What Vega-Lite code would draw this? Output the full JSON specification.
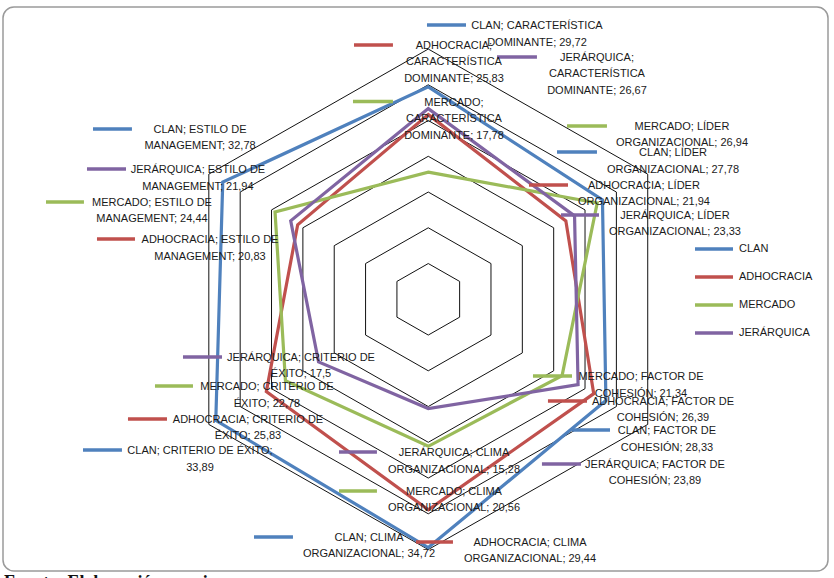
{
  "$schema": "https://vega.github.io/schema/vega-lite/v6.json",
  "autosize": {"type": "none"},
  "width": 825,
  "height": 564,
  "padding": {"left": 3, "top": 7, "right": 6, "bottom": 7},
  "background": "white",
  "config": {
    "view": {"stroke": "#9a9a9a", "strokeWidth": 1.5, "cornerRadius": 11, "fill": "white"},
    "text": {"font": "Liberation Sans"}
  },
  "datasets": {
    "valores": [
      {"serie": "CLAN", "eje": "CARACTERÍSTICA DOMINANTE", "idx": 0, "valor": 29.72},
      {"serie": "CLAN", "eje": "LÍDER ORGANIZACIONAL", "idx": 1, "valor": 27.78},
      {"serie": "CLAN", "eje": "FACTOR DE COHESIÓN", "idx": 2, "valor": 28.33},
      {"serie": "CLAN", "eje": "CLIMA ORGANIZACIONAL", "idx": 3, "valor": 34.72},
      {"serie": "CLAN", "eje": "CRITERIO DE ÉXITO", "idx": 4, "valor": 33.89},
      {"serie": "CLAN", "eje": "ESTILO DE MANAGEMENT", "idx": 5, "valor": 32.78},
      {"serie": "ADHOCRACIA", "eje": "CARACTERÍSTICA DOMINANTE", "idx": 0, "valor": 25.83},
      {"serie": "ADHOCRACIA", "eje": "LÍDER ORGANIZACIONAL", "idx": 1, "valor": 21.94},
      {"serie": "ADHOCRACIA", "eje": "FACTOR DE COHESIÓN", "idx": 2, "valor": 26.39},
      {"serie": "ADHOCRACIA", "eje": "CLIMA ORGANIZACIONAL", "idx": 3, "valor": 29.44},
      {"serie": "ADHOCRACIA", "eje": "CRITERIO DE ÉXITO", "idx": 4, "valor": 25.83},
      {"serie": "ADHOCRACIA", "eje": "ESTILO DE MANAGEMENT", "idx": 5, "valor": 20.83},
      {"serie": "MERCADO", "eje": "CARACTERÍSTICA DOMINANTE", "idx": 0, "valor": 17.78},
      {"serie": "MERCADO", "eje": "LÍDER ORGANIZACIONAL", "idx": 1, "valor": 26.94},
      {"serie": "MERCADO", "eje": "FACTOR DE COHESIÓN", "idx": 2, "valor": 21.34},
      {"serie": "MERCADO", "eje": "CLIMA ORGANIZACIONAL", "idx": 3, "valor": 20.56},
      {"serie": "MERCADO", "eje": "CRITERIO DE ÉXITO", "idx": 4, "valor": 22.78},
      {"serie": "MERCADO", "eje": "ESTILO DE MANAGEMENT", "idx": 5, "valor": 24.44},
      {"serie": "JERÁRQUICA", "eje": "CARACTERÍSTICA DOMINANTE", "idx": 0, "valor": 26.67},
      {"serie": "JERÁRQUICA", "eje": "LÍDER ORGANIZACIONAL", "idx": 1, "valor": 23.33},
      {"serie": "JERÁRQUICA", "eje": "FACTOR DE COHESIÓN", "idx": 2, "valor": 23.89},
      {"serie": "JERÁRQUICA", "eje": "CLIMA ORGANIZACIONAL", "idx": 3, "valor": 15.28},
      {"serie": "JERÁRQUICA", "eje": "CRITERIO DE ÉXITO", "idx": 4, "valor": 17.5},
      {"serie": "JERÁRQUICA", "eje": "ESTILO DE MANAGEMENT", "idx": 5, "valor": 21.94}
    ],
    "rejilla": [
      {"idx": 0, "anillo": [5, 10, 15, 20, 25, 30, 35]},
      {"idx": 1, "anillo": [5, 10, 15, 20, 25, 30, 35]},
      {"idx": 2, "anillo": [5, 10, 15, 20, 25, 30, 35]},
      {"idx": 3, "anillo": [5, 10, 15, 20, 25, 30, 35]},
      {"idx": 4, "anillo": [5, 10, 15, 20, 25, 30, 35]},
      {"idx": 5, "anillo": [5, 10, 15, 20, 25, 30, 35]}
    ],
    "etiquetas": [
      {"serie": "CLAN", "texto": "CLAN; CARACTERÍSTICA\nDOMINANTE; 29,72", "kx1": -0.18, "kx2": 5.21, "tx": 15.01, "ty": 38.36},
      {"serie": "ADHOCRACIA", "texto": "ADHOCRACIA;\nCARACTERÍSTICA\nDOMINANTE; 25,83", "kx1": -10.26, "kx2": -4.88, "tx": 3.55, "ty": 35.57},
      {"serie": "JERÁRQUICA", "texto": "JERÁRQUICA;\nCARACTERÍSTICA\nDOMINANTE; 26,67", "kx1": 9.49, "kx2": 15.01, "tx": 23.3, "ty": 33.89},
      {"serie": "MERCADO", "texto": "MERCADO;\nCARACTERÍSTICA\nDOMINANTE; 17,78", "kx1": -10.4, "kx2": -4.88, "tx": 3.55, "ty": 27.66},
      {"serie": "MERCADO", "texto": "MERCADO; LÍDER\nORGANIZACIONAL; 26,94", "kx1": 19.16, "kx2": 24.68, "tx": 35.04, "ty": 24.24},
      {"serie": "CLAN", "texto": "CLAN; LÍDER\nORGANIZACIONAL; 27,78", "kx1": 17.78, "kx2": 23.3, "tx": 33.8, "ty": 20.6},
      {"serie": "ADHOCRACIA", "texto": "ADHOCRACIA; LÍDER\nORGANIZACIONAL; 21,94", "kx1": 13.91, "kx2": 19.3, "tx": 29.79, "ty": 15.99},
      {"serie": "JERÁRQUICA", "texto": "JERÁRQUICA; LÍDER\nORGANIZACIONAL; 23,33", "kx1": 18.33, "kx2": 23.58, "tx": 34.07, "ty": 11.79},
      {"serie": "CLAN", "texto": "CLAN; ESTILO DE\nMANAGEMENT; 32,78", "kx1": -46.31, "kx2": -40.93, "tx": -31.53, "ty": 23.82},
      {"serie": "JERÁRQUICA", "texto": "JERÁRQUICA; ESTILO DE\nMANAGEMENT; 21,94", "kx1": -47.14, "kx2": -41.75, "tx": -31.81, "ty": 18.22},
      {"serie": "MERCADO", "texto": "MERCADO; ESTILO DE\nMANAGEMENT; 24,44", "kx1": -52.8, "kx2": -47.56, "tx": -38.16, "ty": 13.61},
      {"serie": "ADHOCRACIA", "texto": "ADHOCRACIA; ESTILO DE\nMANAGEMENT; 20,83", "kx1": -45.76, "kx2": -40.51, "tx": -30.15, "ty": 8.43},
      {"serie": "JERÁRQUICA", "texto": "JERÁRQUICA; CRITERIO DE\nÉXITO; 17,5", "kx1": -33.88, "kx2": -28.49, "tx": -17.58, "ty": -8.07},
      {"serie": "MERCADO", "texto": "MERCADO; CRITERIO DE\nÉXITO; 22,78", "kx1": -37.75, "kx2": -32.5, "tx": -22.28, "ty": -12.13},
      {"serie": "ADHOCRACIA", "texto": "ADHOCRACIA; CRITERIO DE\nÉXITO; 25,83", "kx1": -41.48, "kx2": -36.09, "tx": -24.9, "ty": -16.74},
      {"serie": "CLAN", "texto": "CLAN; CRITERIO DE ÉXITO;\n33,89", "kx1": -47.69, "kx2": -42.31, "tx": -31.53, "ty": -21.08},
      {"serie": "CLAN", "texto": "CLAN; CLIMA\nORGANIZACIONAL; 34,72", "kx1": -24.07, "kx2": -18.69, "tx": -8.19, "ty": -33.24},
      {"serie": "ADHOCRACIA", "texto": "ADHOCRACIA; CLIMA\nORGANIZACIONAL; 29,44", "kx1": -1.7, "kx2": 3.41, "tx": 14.05, "ty": -33.94},
      {"serie": "JERÁRQUICA", "texto": "JERÁRQUICA; CLIMA\nORGANIZACIONAL; 15,28", "kx1": -12.33, "kx2": -7.09, "tx": 3.55, "ty": -21.36},
      {"serie": "MERCADO", "texto": "MERCADO; CLIMA\nORGANIZACIONAL; 20,56", "kx1": -12.33, "kx2": -7.09, "tx": 3.55, "ty": -26.81},
      {"serie": "MERCADO", "texto": "MERCADO; FACTOR DE\nCOHESIÓN; 21,34", "kx1": 14.46, "kx2": 19.85, "tx": 29.38, "ty": -10.73},
      {"serie": "ADHOCRACIA", "texto": "ADHOCRACIA; FACTOR DE\nCOHESIÓN; 26,39", "kx1": 16.53, "kx2": 21.92, "tx": 32.42, "ty": -14.22},
      {"serie": "CLAN", "texto": "CLAN; FACTOR DE\nCOHESIÓN; 28,33", "kx1": 19.85, "kx2": 25.1, "tx": 32.97, "ty": -18.28},
      {"serie": "JERÁRQUICA", "texto": "JERÁRQUICA; FACTOR DE\nCOHESIÓN; 23,89", "kx1": 15.7, "kx2": 21.09, "tx": 31.31, "ty": -23.03}
    ],
    "fuente": [
      {"texto": "Fuente: Elaboración propia", "fx": -58.6, "fy": -38.38}
    ]
  },
  "layer": [
    {
      "data": {"name": "rejilla"},
      "transform": [
        {"flatten": ["anillo"]},
        {"calculate": "datum.idx * PI / 3", "as": "ang"},
        {"calculate": "datum.anillo * sin(datum.ang)", "as": "gx"},
        {"calculate": "datum.anillo * cos(datum.ang)", "as": "gy"}
      ],
      "mark": {"type": "line", "interpolate": "linear-closed", "stroke": "#111111", "strokeWidth": 1},
      "encoding": {
        "x": {"field": "gx", "type": "quantitative", "axis": null, "scale": {"domain": [-58.74, 55.21], "nice": false, "zero": false}},
        "y": {"field": "gy", "type": "quantitative", "axis": null, "scale": {"domain": [-38.0, 40.88], "nice": false, "zero": false}},
        "detail": {"field": "anillo", "type": "nominal"},
        "order": {"field": "idx", "type": "quantitative"}
      }
    },
    {
      "data": {"name": "valores"},
      "transform": [
        {"calculate": "datum.idx * PI / 3", "as": "ang"},
        {"calculate": "datum.valor * sin(datum.ang)", "as": "px"},
        {"calculate": "datum.valor * cos(datum.ang)", "as": "py"}
      ],
      "mark": {"type": "line", "interpolate": "linear-closed", "strokeWidth": 3.2},
      "encoding": {
        "x": {"field": "px", "type": "quantitative", "axis": null, "scale": {"domain": [-58.74, 55.21], "nice": false, "zero": false}},
        "y": {"field": "py", "type": "quantitative", "axis": null, "scale": {"domain": [-38.0, 40.88], "nice": false, "zero": false}},
        "color": {
          "field": "serie", "type": "nominal",
          "scale": {"domain": ["CLAN", "ADHOCRACIA", "MERCADO", "JERÁRQUICA"], "range": ["#4F81BD", "#C0504D", "#9BBB59", "#8064A2"]},
          "legend": {"orient": "none", "legendX": 690, "legendY": 221, "title": null, "symbolType": "stroke", "symbolSize": 1444, "symbolStrokeWidth": 3.5, "rowPadding": -11.3, "labelFont": "Liberation Sans", "labelFontSize": 11, "labelColor": "#1a1a1a", "labelOffset": 4, "padding": 0}
        },
        "order": {"field": "idx", "type": "quantitative"}
      }
    },
    {
      "data": {"name": "etiquetas"},
      "mark": {"type": "rule", "strokeWidth": 3.5},
      "encoding": {
        "x": {"field": "kx1", "type": "quantitative", "axis": null, "scale": {"domain": [-58.74, 55.21], "nice": false, "zero": false}},
        "x2": {"field": "kx2"},
        "y": {"field": "ty", "type": "quantitative", "axis": null, "scale": {"domain": [-38.0, 40.88], "nice": false, "zero": false}},
        "color": {
          "field": "serie", "type": "nominal",
          "scale": {"domain": ["CLAN", "ADHOCRACIA", "MERCADO", "JERÁRQUICA"], "range": ["#4F81BD", "#C0504D", "#9BBB59", "#8064A2"]},
          "legend": {"orient": "none", "legendX": 690, "legendY": 221, "title": null, "symbolType": "stroke", "symbolSize": 1444, "symbolStrokeWidth": 3.5, "rowPadding": -11.3, "labelFont": "Liberation Sans", "labelFontSize": 11, "labelColor": "#1a1a1a", "labelOffset": 4, "padding": 0}
        }
      }
    },
    {
      "data": {"name": "etiquetas"},
      "mark": {"type": "text", "align": "center", "baseline": "top", "dy": -5, "lineBreak": "\n", "lineHeight": 16.5, "fontSize": 11, "font": "Liberation Sans", "fill": "#1a1a1a"},
      "encoding": {
        "x": {"field": "tx", "type": "quantitative", "axis": null, "scale": {"domain": [-58.74, 55.21], "nice": false, "zero": false}},
        "y": {"field": "ty", "type": "quantitative", "axis": null, "scale": {"domain": [-38.0, 40.88], "nice": false, "zero": false}},
        "text": {"field": "texto", "type": "nominal"}
      }
    },
    {
      "data": {"name": "fuente"},
      "mark": {"type": "text", "align": "left", "baseline": "top", "fontSize": 18, "fontWeight": "bold", "font": "Liberation Serif", "fill": "#111111"},
      "encoding": {
        "x": {"field": "fx", "type": "quantitative", "axis": null, "scale": {"domain": [-58.74, 55.21], "nice": false, "zero": false}},
        "y": {"field": "fy", "type": "quantitative", "axis": null, "scale": {"domain": [-38.0, 40.88], "nice": false, "zero": false}},
        "text": {"field": "texto", "type": "nominal"}
      }
    }
  ]
}
